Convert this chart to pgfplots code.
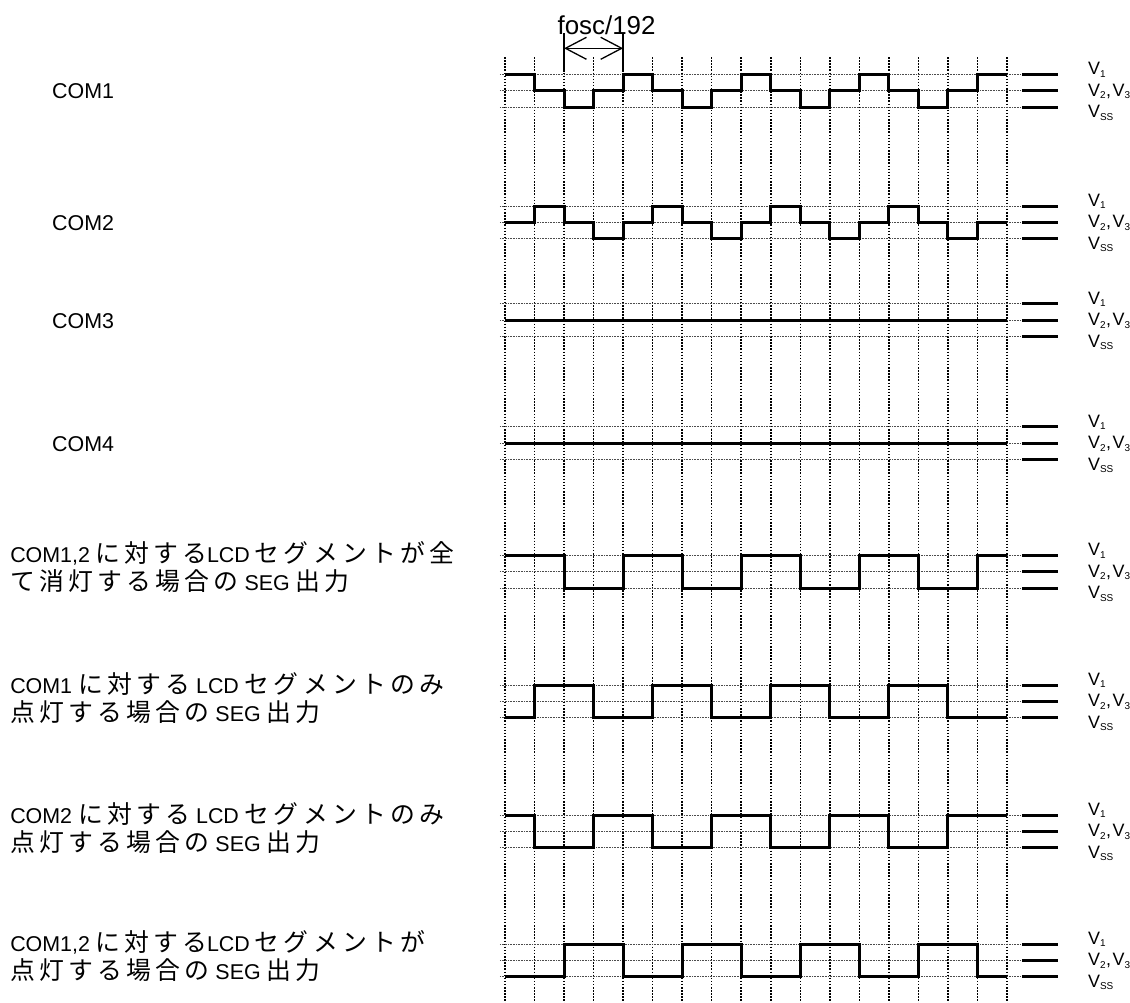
\documentclass[border=0pt]{standalone}
\usepackage{fontspec}
\setmainfont{Liberation Sans}
\newfontfamily\jp[Scale=1.16, LetterSpace=17]{Noto Sans CJK JP}
\usepackage{pgfplots}
\pgfplotsset{compat=1.18}
\usepackage{pgfplotstable}
\usetikzlibrary{arrows.meta}

% levels: 1 = V1, 0 = V2,V3, -1 = VSS ; t in units of one grid step
\pgfplotstableread{
t v
0 1
1 0
2 -1
3 0
4 1
5 0
6 -1
7 0
8 1
9 0
10 -1
11 0
12 1
13 0
14 -1
15 0
16 1
17 1
}\comA
\pgfplotstableread{
t v
0 0
1 1
2 0
3 -1
4 0
5 1
6 0
7 -1
8 0
9 1
10 0
11 -1
12 0
13 1
14 0
15 -1
16 0
17 0
}\comB
\pgfplotstableread{
t v
0 0
17 0
}\comC
\pgfplotstableread{
t v
0 0
17 0
}\comD
\pgfplotstableread{
t v
0 1
2 -1
4 1
6 -1
8 1
10 -1
12 1
14 -1
16 1
17 1
}\segA
\pgfplotstableread{
t v
0 -1
1 1
3 -1
5 1
7 -1
9 1
11 -1
13 1
15 -1
17 -1
}\segB
\pgfplotstableread{
t v
0 1
1 -1
3 1
5 -1
7 1
9 -1
11 1
13 -1
15 1
17 1
}\segC
\pgfplotstableread{
t v
0 -1
2 1
4 -1
6 1
8 -1
10 1
12 -1
14 1
16 -1
17 -1
}\segD

\newcommand\sub[1]{\raisebox{-0.28ex}{\fontsize{10}{10}\selectfont #1}}
\newcommand\as{\kern5bp}
\tikzset{
  vgrid/.style={black, line width=1.5bp, dash pattern=on 1.5bp off 1.6bp},
  hgrid/.style={black!70, line width=0.8bp, dash pattern=on 0.8bp off 0.8bp},
  wave/.style={black, line width=3bp, line join=miter, const plot mark left, no marks},
  lvl/.style={black, line width=3bp},
  vlab/.style={anchor=base west, inner sep=0pt, font=\fontsize{18}{18}\selectfont},
  lbl/.style={anchor=base west, inner sep=0pt, font=\fontsize{21.5}{27}\selectfont},
}
% #1 = pixel y of the middle level
\newcommand\levels[1]{%
  \draw[hgrid] (axis cs:-0.17,{#1-16.3}) -- (axis cs:17.51,{#1-16.3});
  \draw[hgrid] (axis cs:-0.17,{#1}) -- (axis cs:17.51,{#1});
  \draw[hgrid] (axis cs:-0.17,{#1+16.3}) -- (axis cs:17.51,{#1+16.3});
  \draw[lvl] (axis cs:17.51,{#1-16.3}) -- (axis cs:18.73,{#1-16.3});
  \draw[lvl] (axis cs:17.51,{#1}) -- (axis cs:18.73,{#1});
  \draw[lvl] (axis cs:17.51,{#1+16.3}) -- (axis cs:18.73,{#1+16.3});
  \node[vlab] at (axis cs:19.74,{#1-16}) {V\sub{1}};
  \node[vlab] at (axis cs:19.74,{#1+5.5}) {V\sub{2}\kern0.5bp,\kern1.5bp V\sub{3}};
  \node[vlab] at (axis cs:19.74,{#1+27}) {V\sub{SS}};
}

\begin{document}
\begin{tikzpicture}
\begin{axis}[
  x=29.53bp, y=1bp, y dir=reverse,
  xmin=-17.101, xmax=21.165, ymin=0, ymax=1003,
  hide axis, clip=false,
]
\coordinate (bl) at (rel axis cs:0,0);
\coordinate (tr) at (rel axis cs:1,1);

% vertical dotted grid
\pgfplotsinvokeforeach{0,...,17}{\draw[vgrid] (axis cs:#1,57) -- (axis cs:#1,1003);}

\levels{90.7}
\levels{222.3}
\levels{320}
\levels{443}
\levels{571.7}
\levels{701.3}
\levels{831.3}
\levels{960.3}

\addplot[wave] table[x=t, y expr={90.7-16.3*\thisrow{v}}] {\comA};
\addplot[wave] table[x=t, y expr={222.3-16.3*\thisrow{v}}] {\comB};
\addplot[wave] table[x=t, y expr={320-16.3*\thisrow{v}}] {\comC};
\addplot[wave] table[x=t, y expr={443-16.3*\thisrow{v}}] {\comD};
\addplot[wave] table[x=t, y expr={571.7-16.3*\thisrow{v}}] {\segA};
\addplot[wave] table[x=t, y expr={701.3-16.3*\thisrow{v}}] {\segB};
\addplot[wave] table[x=t, y expr={831.3-16.3*\thisrow{v}}] {\segC};
\addplot[wave] table[x=t, y expr={960.3-16.3*\thisrow{v}}] {\segD};

% fosc/192 annotation
\draw[black, line width=1.3bp] (axis cs:2,33) -- (axis cs:2,72);
\draw[black, line width=1.3bp] (axis cs:4,33) -- (axis cs:4,72);
\draw[black, line width=1.3bp, {Straight Barb[length=21bp,width=22bp]}-{Straight Barb[length=21bp,width=22bp]}] (axis cs:2,48.3) -- (axis cs:4,48.3);
\node[inner sep=0pt, font=\fontsize{26}{26}\selectfont] at (axis cs:3.44,25) {fosc/192};

% left labels
\node[lbl] at (axis cs:-15.34,98.5) {COM1};
\node[lbl] at (axis cs:-15.34,230) {COM2};
\node[lbl] at (axis cs:-15.34,328) {COM3};
\node[lbl] at (axis cs:-15.34,451) {COM4};

\node[lbl] at (axis cs:-16.76,562) {COM1,2\as{\jp に対する}LCD\as{\jp セグメントが全}};
\node[lbl] at (axis cs:-16.76,590) {{\jp て消灯する場合の} SEG {\jp 出力}};
\node[lbl] at (axis cs:-16.76,693) {COM1 {\jp に対する} LCD {\jp セグメントのみ}};
\node[lbl] at (axis cs:-16.76,721) {{\jp 点灯する場合の} SEG {\jp 出力}};
\node[lbl] at (axis cs:-16.76,823) {COM2 {\jp に対する} LCD {\jp セグメントのみ}};
\node[lbl] at (axis cs:-16.76,851) {{\jp 点灯する場合の} SEG {\jp 出力}};
\node[lbl] at (axis cs:-16.76,951) {COM1,2\as{\jp に対する}LCD\as{\jp セグメントが}};
\node[lbl] at (axis cs:-16.76,979) {{\jp 点灯する場合の} SEG {\jp 出力}};
\end{axis}
\pgfresetboundingbox
\path (bl) rectangle (tr);
\end{tikzpicture}
\end{document}
